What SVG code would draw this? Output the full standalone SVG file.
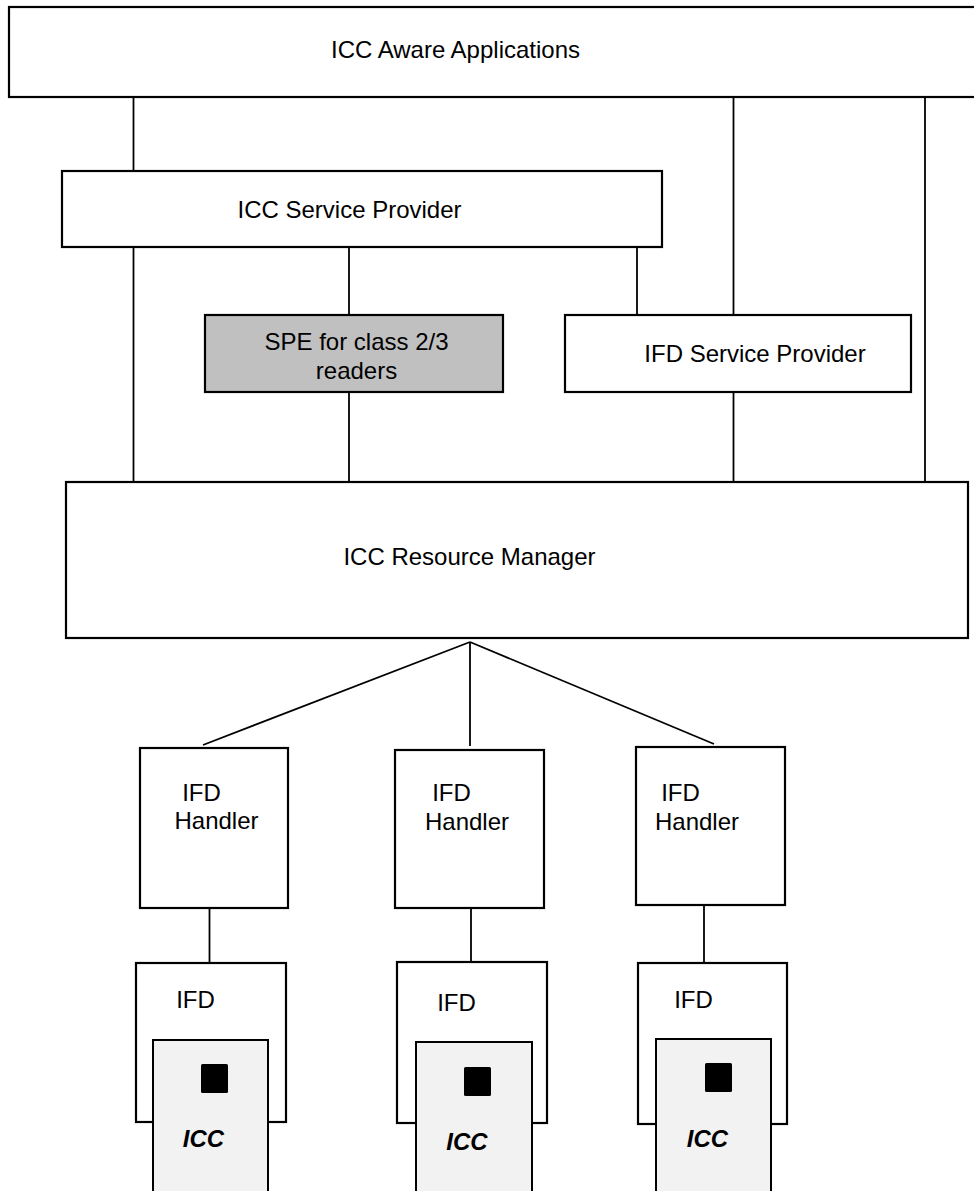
<svg xmlns="http://www.w3.org/2000/svg" width="974" height="1191" viewBox="0 0 974 1191">
<style>
.box{fill:#fff;stroke:#000;stroke-width:2.2}
.spe{fill:#c0c0c0;stroke:#000;stroke-width:2.2}
.card{fill:#f2f2f2;stroke:#000;stroke-width:2}
.chip{fill:#000}
.t{font-family:"Liberation Sans",Arial,sans-serif;font-size:24px;fill:#000;text-anchor:middle}
.i{font-weight:bold;font-style:italic}
#connectors line{stroke:#000;stroke-width:1.8;fill:none}
</style>
<rect width="974" height="1191" fill="#fff"/>
<g id="connectors">
<line x1="133.5" y1="97" x2="133.5" y2="175"/>
<line x1="733.5" y1="97" x2="733.5" y2="315"/>
<line x1="925" y1="97" x2="925" y2="482"/>
<line x1="133.5" y1="247" x2="133.5" y2="482"/>
<line x1="349" y1="247" x2="349" y2="315"/>
<line x1="637" y1="247" x2="637" y2="315"/>
<line x1="349" y1="392" x2="349" y2="482"/>
<line x1="733.5" y1="392" x2="733.5" y2="482"/>
<line x1="203" y1="745" x2="470" y2="642"/>
<line x1="470" y1="642" x2="470" y2="746"/>
<line x1="470" y1="642" x2="714" y2="744"/>
<line x1="209.5" y1="908" x2="209.5" y2="966"/>
<line x1="471" y1="908" x2="471" y2="961"/>
<line x1="704" y1="905" x2="704" y2="963"/>
</g>
<g id="apps">
<rect class="box" x="9" y="7" width="980" height="90"/>
<text class="t" x="455.5" y="58">ICC Aware Applications</text>
</g>
<g id="icc-sp">
<rect class="box" x="62" y="171" width="600" height="76"/>
<text class="t" x="349.5" y="218">ICC Service Provider</text>
</g>
<g id="spe">
<rect class="spe" x="205" y="315" width="298" height="77"/>
<text class="t" x="356.5" y="350">SPE for class 2/3</text>
<text class="t" x="356.5" y="379">readers</text>
</g>
<g id="ifd-sp">
<rect class="box" x="565" y="315" width="346" height="77"/>
<text class="t" x="755" y="362">IFD Service Provider</text>
</g>
<g id="rm">
<rect class="box" x="66" y="482" width="902" height="156"/>
<text class="t" x="469.5" y="565">ICC Resource Manager</text>
</g>
<g id="handler1">
<rect class="box" x="140" y="748" width="148" height="160"/>
<text class="t" x="201.5" y="801">IFD</text>
<text class="t" x="216.5" y="829">Handler</text>
</g>
<g id="handler2">
<rect class="box" x="395" y="750" width="149" height="158"/>
<text class="t" x="451.5" y="801">IFD</text>
<text class="t" x="467" y="830">Handler</text>
</g>
<g id="handler3">
<rect class="box" x="636" y="747" width="149" height="158"/>
<text class="t" x="680.5" y="801">IFD</text>
<text class="t" x="697" y="830">Handler</text>
</g>
<g id="ifd1">
<rect class="box" x="136" y="963" width="150" height="159"/>
<text class="t" x="195.5" y="1008">IFD</text>
</g>
<g id="ifd2">
<rect class="box" x="397" y="962" width="150" height="161"/>
<text class="t" x="456.5" y="1011">IFD</text>
</g>
<g id="ifd3">
<rect class="box" x="638" y="963" width="149" height="161"/>
<text class="t" x="693.5" y="1008">IFD</text>
</g>
<g id="icc1">
<path class="card" d="M153,1195 V1040 H268 V1195"/>
<rect class="chip" x="201" y="1064" width="27" height="29" rx="1.5"/>
<text class="t i" x="203.5" y="1147">ICC</text>
</g>
<g id="icc2">
<path class="card" d="M416,1195 V1042 H532 V1195"/>
<rect class="chip" x="464" y="1067" width="27" height="29" rx="1.5"/>
<text class="t i" x="467" y="1150">ICC</text>
</g>
<g id="icc3">
<path class="card" d="M656,1195 V1039 H771 V1195"/>
<rect class="chip" x="705" y="1063" width="27" height="29" rx="1.5"/>
<text class="t i" x="707.5" y="1147">ICC</text>
</g>
</svg>
